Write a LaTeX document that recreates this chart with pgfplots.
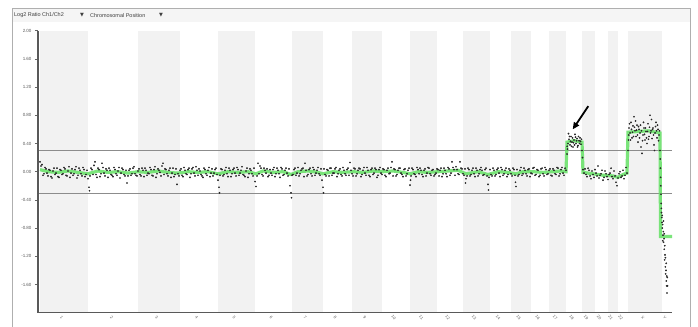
\documentclass[border=0pt]{standalone}
\usepackage{pgfplots}
\pgfplotsset{compat=1.18}
\usetikzlibrary{arrows.meta}
\usepackage{fontspec}
\setmainfont{Liberation Sans}
\newfontfamily\dejavu{DejaVu Sans}
\definecolor{band}{RGB}{242,242,242}
\definecolor{toolbar}{RGB}{245,245,245}
\definecolor{framegray}{RGB}{175,175,175}
\definecolor{segreen}{RGB}{100,225,100}
\definecolor{dotc}{RGB}{40,40,40}
\definecolor{thr}{RGB}{140,140,140}
\begin{document}
\begin{tikzpicture}
\path[use as bounding box] (0,0) rectangle (698bp,327bp);
\fill[white] (0,0) rectangle (698bp,327bp);
\fill[toolbar] (12bp,305bp) rectangle (690bp,319bp);
\draw[framegray, line width=0.8bp] (12bp,0) -- (12bp,319bp) -- (690bp,319bp) -- (690bp,0);
\node[anchor=west, inner sep=0pt, font=\fontsize{5.5}{6}\selectfont, text=black!75] at (14bp,311.5bp) {Log2 Ratio Ch1/Ch2};
\node[inner sep=0pt, font=\dejavu\fontsize{5}{6}\selectfont, text=black!75] at (82bp,311.5bp) {▼};
\node[anchor=west, inner sep=0pt, font=\fontsize{5.5}{6}\selectfont, text=black!75] at (90bp,311.5bp) {Chromosomal Position};
\node[inner sep=0pt, font=\dejavu\fontsize{5}{6}\selectfont, text=black!75] at (161bp,311.5bp) {▼};
\begin{axis}[
  at={(38bp,14.3bp)}, anchor=south west,
  scale only axis, width=634bp, height=282bp,
  xmin=0, xmax=634, ymin=-2, ymax=2,
  axis x line*=bottom, axis y line*=left,
  axis line style={draw=black!65, line width=1.3bp},
  axis on top,
  tick align=outside,
  major tick length=3bp,
  tick style={black!60, line width=0.4bp},
  ytick={-1.6,-1.2,-0.8,-0.4,0,0.4,0.8,1.2,1.6,2.0},
  yticklabel style={font=\fontsize{4.5}{5}\selectfont, text=black!65, /pgf/number format/.cd, fixed, fixed zerofill, precision=2, assume math mode=true},
  xtick={26,76,121,161,198.5,235.5,269.5,299.5,329,358,385.5,412,438.5,462.5,483,502,519.5,536,550.5,563.5,575,585,607,629},
  xticklabels={1,2,3,4,5,6,7,8,9,10,11,12,13,14,15,16,17,18,19,20,21,22,X,Y},
  xticklabel style={font=\fontsize{4}{5}\selectfont, text=black!65, rotate=-50, anchor=center, yshift=-3bp},
  xtick style={draw=none},
]
% chromosome bands (odd chromosomes and X)
\fill[band] (2,-2) rectangle (50,2);
\fill[band] (100,-2) rectangle (142,2);
\fill[band] (180,-2) rectangle (217,2);
\fill[band] (254,-2) rectangle (285,2);
\fill[band] (314,-2) rectangle (344,2);
\fill[band] (372,-2) rectangle (399,2);
\fill[band] (425,-2) rectangle (452,2);
\fill[band] (473,-2) rectangle (493,2);
\fill[band] (511,-2) rectangle (528,2);
\fill[band] (544,-2) rectangle (557,2);
\fill[band] (570,-2) rectangle (580,2);
\fill[band] (590,-2) rectangle (624,2);
% thresholds
\addplot[thr, line width=0.6bp] coordinates {(0,0.3) (634,0.3)};
\addplot[thr, line width=0.6bp] coordinates {(0,-0.3) (634,-0.3)};
% segment / moving average line
\addplot[segreen, line width=3.2bp, opacity=0.85] coordinates {
(2,0.03)(10,0.00)(20,-0.01)(30,0.01)(40,-0.01)(50,-0.03)(52,-0.02)(60,0.01)(70,-0.01)(80,0.00)(90,-0.02)(100,0.00)
(110,-0.01)(120,0.01)(130,-0.01)(140,-0.02)(150,0.00)(160,-0.01)(170,0.00)(180,-0.03)(190,0.00)(200,-0.01)(210,0.00)
(218,-0.03)(225,0.01)(235,-0.01)(245,0.00)(253,-0.04)(260,0.00)(270,0.01)(280,-0.01)(285,-0.03)(295,0.00)(305,-0.01)
(315,0.00)(325,-0.01)(335,0.01)(345,0.00)(355,0.01)(365,-0.01)(372,-0.03)(380,0.00)(390,-0.01)(400,0.00)(410,0.01)
(420,0.02)(428,-0.03)(440,0.00)(450,-0.04)(460,0.00)(470,-0.01)(478,-0.03)(485,0.00)(495,0.00)(505,-0.01)(515,0.00)
(522,0.01)(528,0.00)(529,0.42)(536,0.44)(544,0.42)(545,-0.01)(555,-0.03)(565,-0.05)(575,-0.06)(580,-0.08)(585,-0.04)
(589,-0.02)(590,0.56)(600,0.57)(610,0.58)(622,0.55)(622.5,-0.92)(634,-0.92)};
% log2 ratio probes
\addplot[only marks, mark=*, mark size=0.65bp, dotc, mark options={draw=dotc, fill=dotc}] coordinates {
(2,0.14)(3,0.08)(4,0.10)(6,-0.03)(8,0.04)(10,-0.06)(12,0.02)(14,-0.09)(16,0.05)(18,-0.02)(20,-0.07)(22,0.03)(24,-0.04)
(26,0.06)(28,-0.05)(30,0.01)(32,-0.08)(34,0.04)(36,-0.03)(38,0.07)(40,-0.05)(42,0.02)(44,-0.06)(46,0.03)(48,-0.04)
(50,-0.10)(51,-0.22)(51.5,-0.27)
(52,-0.06)(54,0.03)(56,0.09)(57,0.14)(58,-0.04)(60,0.05)(62,-0.07)(64,0.12)(66,-0.02)(68,0.04)(70,-0.08)(72,0.02)
(74,-0.05)(76,0.06)(78,-0.03)(80,0.01)(82,-0.09)(84,0.05)(86,-0.04)(88,0.02)(89,-0.16)(90,-0.06)(92,0.04)(94,-0.03)
(96,0.07)(98,-0.05)(100,0.01)
(102,-0.04)(104,0.05)(106,-0.07)(108,0.02)(110,-0.02)(112,0.06)(114,-0.05)(116,0.03)(118,-0.08)(120,0.04)(122,-0.01)
(124,0.08)(125,0.12)(126,-0.04)(128,0.03)(130,-0.06)(132,0.05)(134,-0.02)(136,-0.07)(138,0.04)(139,-0.18)(140,-0.03)(142,0.02)
(144,-0.05)(146,0.06)(148,-0.03)(150,0.03)(152,-0.08)(154,0.04)(156,-0.02)(158,0.07)(160,-0.05)(162,0.01)(164,-0.06)
(166,0.05)(168,-0.03)(170,0.02)(172,-0.07)(174,0.04)(176,-0.02)(178,0.05)(180,-0.12)(181,-0.22)(181.5,-0.30)
(182,-0.05)(184,0.03)(186,-0.04)(188,0.06)(190,-0.07)(192,0.02)(194,-0.03)(196,0.05)(198,-0.06)(200,0.03)(202,-0.02)
(204,0.07)(206,-0.05)(208,0.01)(210,-0.08)(212,0.04)(214,-0.03)(216,0.05)(217,-0.14)(218,-0.21)
(219,-0.06)(220,0.12)(222,0.08)(224,-0.04)(226,0.05)(228,-0.02)(230,-0.07)(232,0.03)(234,-0.05)(236,0.06)(238,-0.03)
(240,0.02)(242,-0.08)(244,0.04)(246,-0.04)(248,0.05)(250,-0.06)(252,-0.20)(253,-0.30)(253.5,-0.37)(254,-0.05)
(256,0.03)(258,-0.05)(260,0.06)(262,-0.03)(264,0.04)(266,-0.07)(267,0.12)(268,0.02)(270,-0.04)(272,0.05)(274,-0.06)
(276,0.03)(278,-0.02)(280,0.06)(282,-0.05)(284,-0.12)(285,-0.22)(285.5,-0.30)
(287,-0.04)(289,0.03)(291,-0.06)(293,0.05)(295,-0.02)(297,0.04)(299,-0.07)(301,0.02)(303,-0.04)(305,0.06)(307,-0.03)
(309,0.03)(311,-0.05)(312,0.13)(313,0.02)
(315,-0.06)(317,0.04)(319,-0.03)(321,0.05)(323,-0.07)(325,0.02)(327,-0.02)(329,0.06)(331,-0.05)(333,0.03)(335,-0.04)
(337,0.05)(339,-0.08)(341,0.03)(343,-0.02)
(345,0.04)(347,-0.05)(349,0.02)(351,-0.03)(353,0.06)(354,0.14)(355,-0.06)(357,0.03)(359,-0.04)(361,0.05)(363,-0.02)
(365,-0.07)(367,0.04)(369,-0.03)(371,0.05)
(372,-0.19)(372.5,-0.12)(373,-0.06)(375,0.03)(377,-0.04)(379,0.06)(381,-0.03)(383,0.02)(385,-0.07)(387,0.04)(389,-0.02)
(391,0.05)(393,-0.05)(395,0.03)(397,-0.04)(399,0.04)
(401,-0.06)(403,0.05)(405,-0.03)(407,0.02)(409,-0.07)(411,0.04)(413,-0.02)(414,0.14)(415,0.06)(417,-0.05)(419,0.03)
(421,-0.04)(422,0.14)(423,0.05)(425,-0.03)
(427,0.04)(427.5,-0.16)(428,-0.10)(429,-0.06)(431,0.03)(433,-0.04)(435,0.05)(437,-0.07)(439,0.02)(441,-0.03)(443,0.06)
(445,-0.05)(447,0.03)(449,-0.06)(450,-0.18)(450.5,-0.26)(451,-0.08)
(453,-0.04)(455,0.05)(457,-0.06)(459,0.03)(461,-0.02)(463,0.06)(465,-0.05)(467,0.02)(469,-0.07)(471,0.04)(473,-0.03)
(475,0.05)(477,-0.05)(477.5,-0.15)(478,-0.21)(479,0.03)(481,-0.04)(483,0.06)(485,-0.03)(487,0.02)(489,-0.06)(491,0.04)(493,-0.02)
(495,0.05)(497,-0.05)(499,0.03)(501,-0.07)(503,0.04)(505,-0.03)(507,0.06)(509,-0.04)(511,0.02)
(513,-0.05)(515,0.04)(517,-0.03)(519,0.06)(521,-0.06)(523,0.03)(525,-0.02)(527,0.05)
(529,0.25)(529.5,0.32)(530,0.40)(530.5,0.54)(531,0.46)(532,0.38)(533,0.50)(534,0.42)(535,0.35)(536,0.45)(537,0.53)
(538,0.40)(539,0.47)(540,0.37)(541,0.44)(542,0.48)(543,0.39)(544,0.30)(544.5,0.20)
(546,-0.02)(547,0.04)(549,-0.07)(551,0.02)(553,-0.10)(555,-0.04)(557,0.03)(559,-0.06)(560,0.08)(561,-0.09)(563,-0.03)
(565,-0.12)(567,0.01)(569,-0.07)(571,-0.04)(573,0.05)(575,-0.10)(577,-0.06)(578,-0.15)(579,-0.20)(581,-0.03)(583,-0.08)
(585,0.02)(587,-0.05)(588,0.06)(589,-0.02)
(590,0.30)(590.5,0.45)(591,0.62)(592,0.55)(593,0.70)(594,0.48)(595,0.65)(596,0.78)(597,0.58)(598,0.50)(599,0.66)
(600,0.42)(601,0.60)(602,0.55)(603,0.35)(604,0.26)(605,0.52)(606,0.62)(607,0.45)(608,0.57)(609,0.40)(610,0.68)
(611,0.50)(612,0.80)(613,0.58)(614,0.47)(615,0.62)(616,0.38)(617,0.55)(618,0.70)(619,0.48)(620,0.60)(621,0.52)(622,0.30)
(622.2,0.18)(622.4,0.05)(622.6,-0.08)(622.8,-0.20)(623,-0.32)(623.2,-0.45)(623.5,-0.58)(623.8,-0.65)(624,-0.72)
(624.3,-0.80)(624.6,-0.75)(625,-0.90)(625.3,-0.85)(625.6,-1.00)(626,-0.95)(626.3,-1.10)(626.6,-1.25)(627,-1.18)
(627.3,-1.35)(627.6,-1.45)(628,-1.40)(628.3,-1.55)(628.6,-1.62)(629,-1.72)(629.3,-1.50)};
% second probe set, interleaved
\addplot[only marks, mark=*, mark size=0.65bp, dotc, mark options={draw=dotc, fill=dotc}] coordinates {
(5,-0.05)(7,0.06)(9,-0.02)(11,0.03)(13,-0.07)(15,0.01)(17,-0.04)(19,0.05)(21,-0.08)(23,0.02)(25,-0.03)(27,0.04)
(29,-0.06)(31,0.07)(33,-0.02)(35,-0.05)(37,0.03)(39,-0.09)(41,0.05)(43,-0.03)(45,0.06)(47,-0.07)(49,0.02)
(53,0.05)(55,-0.04)(59,-0.08)(61,0.03)(63,-0.03)(65,0.06)(67,-0.06)(69,0.02)(71,0.05)(73,-0.04)(75,-0.07)(77,0.03)
(79,-0.05)(81,0.06)(83,-0.02)(85,0.03)(87,-0.06)(91,0.02)(93,-0.05)(95,0.05)(97,-0.03)(99,-0.06)
(101,0.04)(103,-0.06)(105,0.02)(107,0.05)(109,-0.05)(111,-0.03)(113,0.03)(115,-0.06)(117,0.07)(119,-0.03)(121,0.02)
(123,-0.06)(127,0.04)(129,-0.03)(131,0.02)(133,-0.08)(135,0.05)(137,-0.04)(141,-0.06)
(143,0.04)(145,-0.07)(147,0.02)(149,-0.04)(151,0.05)(153,-0.03)(155,0.06)(157,-0.06)(159,0.02)(161,0.04)(163,-0.04)
(165,-0.08)(167,0.03)(169,-0.05)(171,0.06)(173,-0.02)(175,-0.06)(177,0.03)(179,-0.04)
(183,0.04)(185,-0.06)(187,0.02)(189,-0.03)(191,0.05)(193,-0.07)(195,0.03)(197,-0.02)(199,0.06)(201,-0.05)(203,0.02)
(205,-0.04)(207,-0.07)(209,0.05)(211,-0.03)(213,0.02)(215,-0.06)
(221,-0.03)(223,0.05)(225,-0.06)(227,0.02)(229,0.04)(231,-0.05)(233,-0.02)(235,0.03)(237,-0.07)(239,0.05)(241,-0.03)
(243,0.06)(245,-0.05)(247,0.02)(249,-0.02)(251,0.04)
(255,-0.04)(257,0.05)(259,-0.02)(261,-0.06)(263,0.02)(265,0.05)(269,-0.06)(271,0.03)(273,-0.03)(275,0.06)(277,-0.05)
(279,0.02)(281,-0.03)(283,0.04)
(286,0.04)(288,-0.06)(290,0.02)(292,0.05)(294,-0.05)(296,-0.02)(298,0.06)(300,-0.03)(302,0.04)(304,-0.06)(306,0.02)
(308,-0.05)(310,0.05)
(314,-0.03)(316,0.05)(318,-0.06)(320,0.02)(322,0.04)(324,-0.04)(326,0.06)(328,-0.05)(330,0.02)(332,-0.07)(334,0.05)
(336,-0.02)(338,0.03)(340,-0.05)(342,0.06)
(344,-0.04)(346,0.03)(348,-0.07)(350,0.05)(352,-0.02)(356,0.04)(358,-0.06)(360,0.02)(362,0.05)(364,-0.04)(366,0.03)
(368,-0.06)(370,0.02)
(374,0.05)(376,-0.03)(378,-0.07)(380,0.03)(382,0.05)(384,-0.04)(386,0.02)(388,-0.06)(390,0.06)(392,-0.03)(394,0.02)
(396,-0.06)(398,-0.02)
(400,0.03)(402,0.02)(404,-0.07)(406,0.05)(408,-0.03)(410,0.06)(412,-0.05)(416,0.03)(418,0.07)(420,-0.03)(424,0.04)
(426,-0.05)(430,0.05)(432,-0.06)(434,0.02)(436,-0.03)(438,0.05)(440,-0.06)(442,0.03)(444,0.02)(446,-0.04)(448,0.05)
(452,0.03)(454,-0.06)(456,0.02)(458,-0.04)(460,0.05)(462,-0.07)(464,0.03)(466,-0.03)(468,0.05)(470,-0.04)(472,0.02)
(474,-0.06)(476,0.03)(480,-0.06)(482,0.02)(484,-0.05)(486,0.05)(488,-0.03)(490,0.03)(492,-0.07)
(494,-0.03)(496,0.06)(498,-0.04)(500,0.02)(502,-0.05)(504,0.05)(506,-0.06)(508,0.03)(510,-0.03)
(512,0.04)(514,-0.06)(516,0.02)(518,-0.04)(520,0.05)(522,-0.03)(524,0.06)(526,-0.05)(528,0.02)
(529.2,0.36)(531.5,0.50)(532.5,0.43)(533.5,0.36)(534.5,0.48)(535.5,0.41)(536.5,0.38)(537.5,0.49)(538.5,0.44)
(539.5,0.35)(540.5,0.50)(541.5,0.40)(542.5,0.43)(543.5,0.46)
(545,0.03)(548,-0.04)(550,0.05)(552,-0.06)(554,0.01)(556,-0.08)(558,-0.02)(562,-0.05)(564,0.02)(566,-0.08)(568,-0.03)
(570,-0.11)(572,-0.02)(574,-0.07)(576,0.01)(580,-0.09)(582,0.00)(584,-0.06)(586,-0.10)
(590.8,0.52)(591.5,0.68)(592.5,0.45)(593.5,0.60)(594.5,0.56)(595.5,0.50)(596.5,0.63)(597.5,0.72)(598.5,0.59)
(599.5,0.52)(600.5,0.64)(601.5,0.48)(602.5,0.66)(603.5,0.58)(604.5,0.44)(605.5,0.70)(606.5,0.53)(607.5,0.62)
(608.5,0.48)(609.5,0.57)(610.5,0.46)(611.5,0.63)(612.5,0.55)(613.5,0.74)(614.5,0.60)(615.5,0.52)(616.5,0.30)
(617.5,0.64)(618.5,0.58)(619.5,0.66)(620.5,0.44)(621.5,0.58)
(623.4,-0.52)(624.2,-0.62)(624.8,-0.98)(625.4,-0.70)(626.2,-0.88)(626.8,-1.05)(627.4,-1.22)(628.2,-1.30)
(628.8,-1.48)(629.5,-1.62)};
% arrow annotation
\draw[-{Triangle[length=7bp,width=6bp]}, line width=1.8bp, black] (550.3,0.93) -- (534.7,0.60);
\end{axis}
\end{tikzpicture}
\end{document}
